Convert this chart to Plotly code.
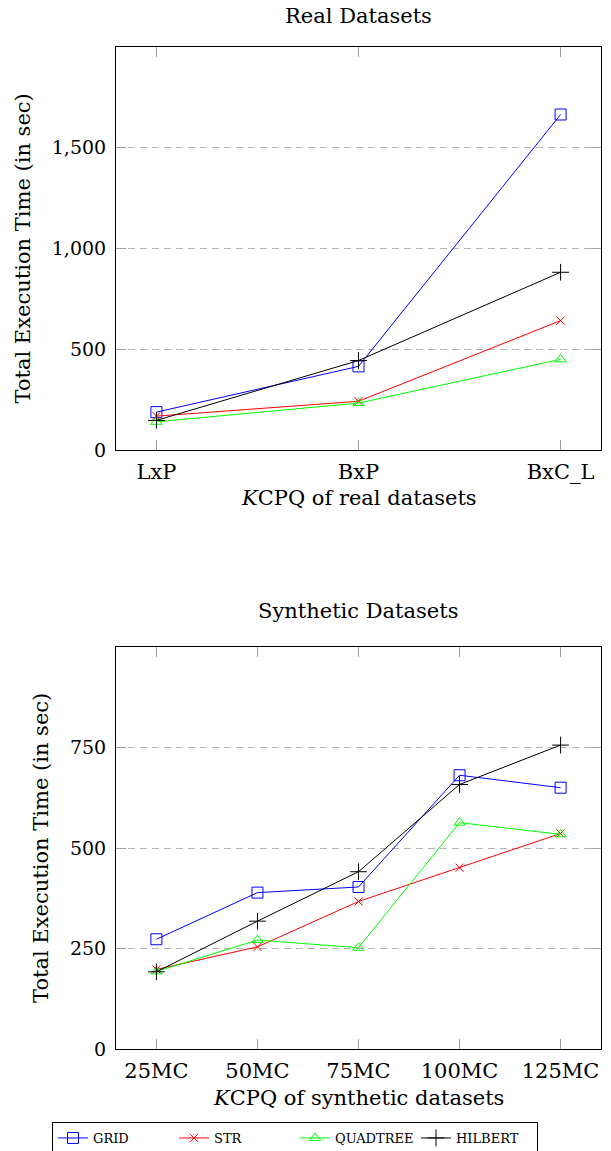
import plotly.graph_objects as go

# ---------------- data ----------------
real_cats = ["LxP", "BxP", "BxC_L"]
real_grid = [188, 415, 1665]
real_str = [168, 242, 642]
real_quad = [140, 233, 450]
real_hilb = [147, 444, 882]

syn_cats = ["25MC", "50MC", "75MC", "100MC", "125MC"]
syn_grid = [273, 389, 403, 681, 650]
syn_str = [198, 254, 367, 451, 536]
syn_quad = [193, 271, 252, 563, 534]
syn_hilb = [192, 318, 441, 658, 756]

series_names = ["GRID", "STR", "QUADTREE", "HILBERT"]
real_ticks = [0, 500, 1000, 1500]
real_ticktext = ["0", "500", "1,000", "1,500"]
syn_ticks = [0, 250, 500, 750]
syn_ticktext = ["0", "250", "500", "750"]

# ---------------- styling ----------------
W, H = 611, 1151
FONT = "DejaVu Serif"
FS = 21
FS_Y = 19
colors = ["#0000ff", "#ff0000", "#00ff00", "#000000"]
symbols = ["square-open", "x-thin-open", "triangle-up-open", "cross-thin-open"]
sizes = [11, 8, 10, 12]

def px_x(p):
    return p / W

def px_y(p):
    return 1 - p / H

xdom = [px_x(116), px_x(601)]
top_dom = [px_y(450), px_y(47)]
bot_dom = [px_y(1049), px_y(647)]

fig = go.Figure()

real_series = [real_grid, real_str, real_quad, real_hilb]
syn_series = [syn_grid, syn_str, syn_quad, syn_hilb]

for i, name in enumerate(series_names):
    fig.add_trace(go.Scatter(
        x=list(range(len(real_cats))), y=real_series[i], mode="lines+markers",
        name=name, showlegend=False,
        line=dict(color=colors[i], width=1),
        marker=dict(symbol=symbols[i], size=sizes[i], color=colors[i],
                    line=dict(color=colors[i], width=1)),
        xaxis="x", yaxis="y"))
for i, name in enumerate(series_names):
    fig.add_trace(go.Scatter(
        x=list(range(len(syn_cats))), y=syn_series[i], mode="lines+markers",
        name=name, showlegend=True,
        line=dict(color=colors[i], width=1),
        marker=dict(symbol=symbols[i], size=sizes[i], color=colors[i],
                    line=dict(color=colors[i], width=1)),
        xaxis="x2", yaxis="y2"))

axis_common = dict(
    showline=True, linecolor="#000000", linewidth=1, mirror="ticks",
    ticks="inside", ticklen=10, tickcolor="#a0a0a0", tickwidth=1,
    zeroline=False,
)
xfont = dict(family=FONT, size=FS, color="#000000")
yfont = dict(family=FONT, size=FS_Y, color="#000000")

fig.update_layout(
    width=W, height=H,
    margin=dict(l=0, r=0, t=0, b=0, autoexpand=False),
    paper_bgcolor="white", plot_bgcolor="white",
    font=dict(family=FONT, color="#000000"),
    xaxis=dict(domain=xdom, anchor="y", range=[-0.2, 2.2],
               tickvals=list(range(len(real_cats))), ticktext=real_cats,
               showgrid=False, ticklabelstandoff=3, tickfont=xfont, **axis_common),
    yaxis=dict(domain=top_dom, anchor="x", range=[0, 2000],
               tickvals=real_ticks, ticktext=real_ticktext,
               showgrid=True, gridcolor="#b4b4b4", gridwidth=1, griddash="7px,5px",
               ticklabelstandoff=5, tickfont=yfont, **axis_common),
    xaxis2=dict(domain=xdom, anchor="y2", range=[-0.4, 4.4],
                tickvals=list(range(len(syn_cats))), ticktext=syn_cats,
                showgrid=False, ticklabelstandoff=3, tickfont=xfont, **axis_common),
    yaxis2=dict(domain=bot_dom, anchor="x2", range=[0, 1000],
                tickvals=syn_ticks, ticktext=syn_ticktext,
                showgrid=True, gridcolor="#b4b4b4", gridwidth=1, griddash="7px,5px",
                ticklabelstandoff=5, tickfont=yfont, **axis_common),
    legend=dict(
        orientation="h", x=px_x(52), xanchor="left",
        y=px_y(1122), yanchor="top",
        bordercolor="#000000", borderwidth=1, bgcolor="white",
        font=dict(family=FONT, size=13, color="#000000"),
        itemwidth=30, tracegroupgap=0,
        entrywidth=76, entrywidthmode="pixels",
    ),
    showlegend=True,
)

cx = (116 + 601) / 2 / W
ann = [
    dict(text="Real Datasets", x=cx, y=px_y(16), angle=0),
    dict(text="Synthetic Datasets", x=cx, y=px_y(611), angle=0),
    dict(text="<i>K</i>CPQ of real datasets", x=cx, y=px_y(498), angle=0),
    dict(text="<i>K</i>CPQ of synthetic datasets", x=cx, y=px_y(1098), angle=0),
    dict(text="Total Execution Time (in sec)", x=px_x(22), y=px_y(248.5), angle=-90),
    dict(text="Total Execution Time (in sec)", x=px_x(41), y=px_y(848), angle=-90),
]
for a in ann:
    fig.add_annotation(
        text=a["text"], x=a["x"], y=a["y"], xref="paper", yref="paper",
        xanchor="center", yanchor="middle", showarrow=False, textangle=a["angle"],
        font=dict(family=FONT, size=FS, color="#000000"))

fig.write_html("out.html")
